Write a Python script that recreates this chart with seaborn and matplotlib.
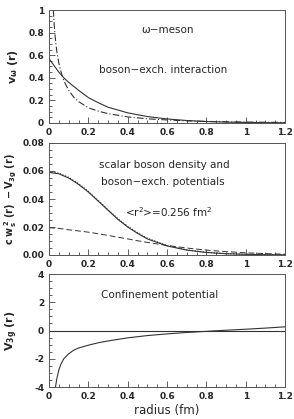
import numpy as np
import pandas as pd
import matplotlib
matplotlib.use("Agg")
import matplotlib.pyplot as plt
from matplotlib.ticker import MultipleLocator
import seaborn as sns

# panel 1: omega-meson, boson-exchange interaction
r1_solid = [0.0, 0.025, 0.05, 0.075, 0.1, 0.15, 0.2, 0.25, 0.3, 0.4, 0.5, 0.6, 0.7, 0.8, 0.9, 1.0, 1.1, 1.2]
v1_solid = [0.57, 0.51, 0.45, 0.40, 0.36, 0.29, 0.225, 0.18, 0.14, 0.09, 0.057, 0.036, 0.022, 0.013, 0.008, 0.005, 0.003, 0.002]
r1_dash = [0.022, 0.026, 0.03, 0.035, 0.04, 0.05, 0.06, 0.07, 0.085, 0.1, 0.125, 0.15, 0.2, 0.25, 0.3, 0.4, 0.5, 0.6, 0.7, 0.8, 1.0, 1.2]
v1_dash = [1.0, 0.88, 0.79, 0.70, 0.63, 0.53, 0.46, 0.40, 0.34, 0.29, 0.23, 0.19, 0.135, 0.105, 0.083, 0.054, 0.037, 0.027, 0.019, 0.014, 0.008, 0.005]

# panel 2: scalar boson density and boson-exchange potentials
r2 = [0.0, 0.05, 0.1, 0.15, 0.2, 0.25, 0.3, 0.35, 0.4, 0.45, 0.5, 0.6, 0.7, 0.8, 0.9, 1.0, 1.1, 1.2]
w2_solid = [0.059, 0.058, 0.055, 0.0505, 0.045, 0.0385, 0.032, 0.0255, 0.020, 0.0155, 0.0115, 0.0065, 0.0035, 0.0018, 0.0009, 0.0005, 0.0002, 0.0001]
w2_dot = [0.0595, 0.0585, 0.0555, 0.051, 0.0455, 0.039, 0.0325, 0.026, 0.0205, 0.016, 0.012, 0.0068, 0.0037, 0.002, 0.001, 0.0005, 0.0002, 0.0001]
w2_dash = [0.0195, 0.019, 0.018, 0.0172, 0.0163, 0.0152, 0.014, 0.0127, 0.0115, 0.0102, 0.009, 0.0068, 0.005, 0.0035, 0.0024, 0.0016, 0.001, 0.0006]

# panel 3: confinement potential
r3 = [0.033, 0.04, 0.05, 0.06, 0.075, 0.1, 0.125, 0.15, 0.2, 0.25, 0.3, 0.4, 0.5, 0.6, 0.7, 0.8, 0.9, 1.0, 1.1, 1.2]
v3 = [-4.0, -3.4, -2.8, -2.4, -2.0, -1.65, -1.4, -1.24, -1.04, -0.87, -0.74, -0.52, -0.36, -0.24, -0.14, -0.06, 0.02, 0.09, 0.17, 0.26]

sns.set_style("ticks")
plt.rcParams['font.family'] = ['DejaVu Sans']
plt.rcParams['mathtext.fontset'] = 'dejavusans'
plt.rcParams['axes.unicode_minus'] = False

fig = plt.figure(figsize=(2.94, 4.19), dpi=100)
W, H = 294, 419
def add_ax(top, bottom):
    return fig.add_axes([49 / W, 1 - bottom / H, (285 - 49) / W, (bottom - top) / H])

ax1 = add_ax(10, 123)
ax2 = add_ax(143, 255)
ax3 = add_ax(274, 387)

lc = "#333333"
sns.lineplot(x=r1_solid, y=v1_solid, ax=ax1, color=lc, lw=0.8)
sns.lineplot(x=r1_dash, y=v1_dash, ax=ax1, color=lc, lw=0.8, linestyle=(0, (6, 2, 1, 2)))
ax1.set_ylim(0, 1)
ax1.yaxis.set_major_locator(MultipleLocator(0.2))
ax1.yaxis.set_minor_locator(MultipleLocator(0.05))
ax1.set_ylabel(r"$\mathbf{v_\omega\ (r)}$", fontsize=8)
ax1.text(0.39, 0.82, "ω−meson", transform=ax1.transAxes, fontsize=7.5, va="center")
ax1.text(0.21, 0.47, "boson−exch. interaction", transform=ax1.transAxes, fontsize=7.5, va="center")

sns.lineplot(x=r2, y=w2_solid, ax=ax2, color=lc, lw=0.8)
sns.lineplot(x=r2, y=w2_dot, ax=ax2, color=lc, lw=0.8, linestyle=(0, (1, 1.5)))
sns.lineplot(x=r2, y=w2_dash, ax=ax2, color=lc, lw=0.7, linestyle=(0, (6, 3)))
ax2.set_ylim(0, 0.08)
ax2.yaxis.set_major_locator(MultipleLocator(0.02))
ax2.yaxis.set_minor_locator(MultipleLocator(0.005))
ax2.set_ylabel(r"$\mathbf{c\ w_s^{\,2}\ (r)\ -V_{3g}\ (r)}$", fontsize=7)
ax2.text(0.21, 0.8, "scalar boson density and", transform=ax2.transAxes, fontsize=7.5, va="center")
ax2.text(0.22, 0.65, "boson−exch. potentials", transform=ax2.transAxes, fontsize=7.5, va="center")
ax2.text(0.32, 0.38, r"<r$^2$>=0.256 fm$^2$", transform=ax2.transAxes, fontsize=7.5, va="center")

sns.lineplot(x=r3, y=v3, ax=ax3, color=lc, lw=0.8)
ax3.axhline(0, color=lc, lw=0.8)
ax3.set_ylim(-4, 4)
ax3.yaxis.set_major_locator(MultipleLocator(2))
ax3.yaxis.set_minor_locator(MultipleLocator(0.5))
ax3.set_ylabel(r"$\mathbf{V_{3g}\ (r)}$", fontsize=8)
ax3.set_xlabel("radius (fm)", fontsize=8.5, labelpad=2)
ax3.text(0.22, 0.81, "Confinement potential", transform=ax3.transAxes, fontsize=7.5, va="center")

for ax in (ax1, ax2, ax3):
    ax.set_xlim(0, 1.2)
    ax.xaxis.set_major_locator(MultipleLocator(0.2))
    ax.xaxis.set_minor_locator(MultipleLocator(0.05))
    ax.set_xticks([0, 0.2, 0.4, 0.6, 0.8, 1.0, 1.2])
    ax.set_xticklabels(["0", "0.2", "0.4", "0.6", "0.8", "1", "1.2"])
    ax.tick_params(which="both", direction="in", top=False, right=False, labelsize=6.5, width=0.6, color="#444444")
    ax.tick_params(which="major", length=4)
    ax.tick_params(which="minor", length=2)
    for s in ax.spines.values():
        s.set_linewidth(0.7)
        s.set_color("#555555")
    ax.yaxis.set_label_coords(-0.125, 0.5)

ax1.set_yticks([0, 0.2, 0.4, 0.6, 0.8, 1.0])
ax1.set_yticklabels(["0", "0.2", "0.4", "0.6", "0.8", "1"])
for ax in (ax1, ax2, ax3):
    for lab in ax.get_xticklabels() + ax.get_yticklabels():
        lab.set_fontweight("bold")

fig.savefig("out.png", dpi=100)
